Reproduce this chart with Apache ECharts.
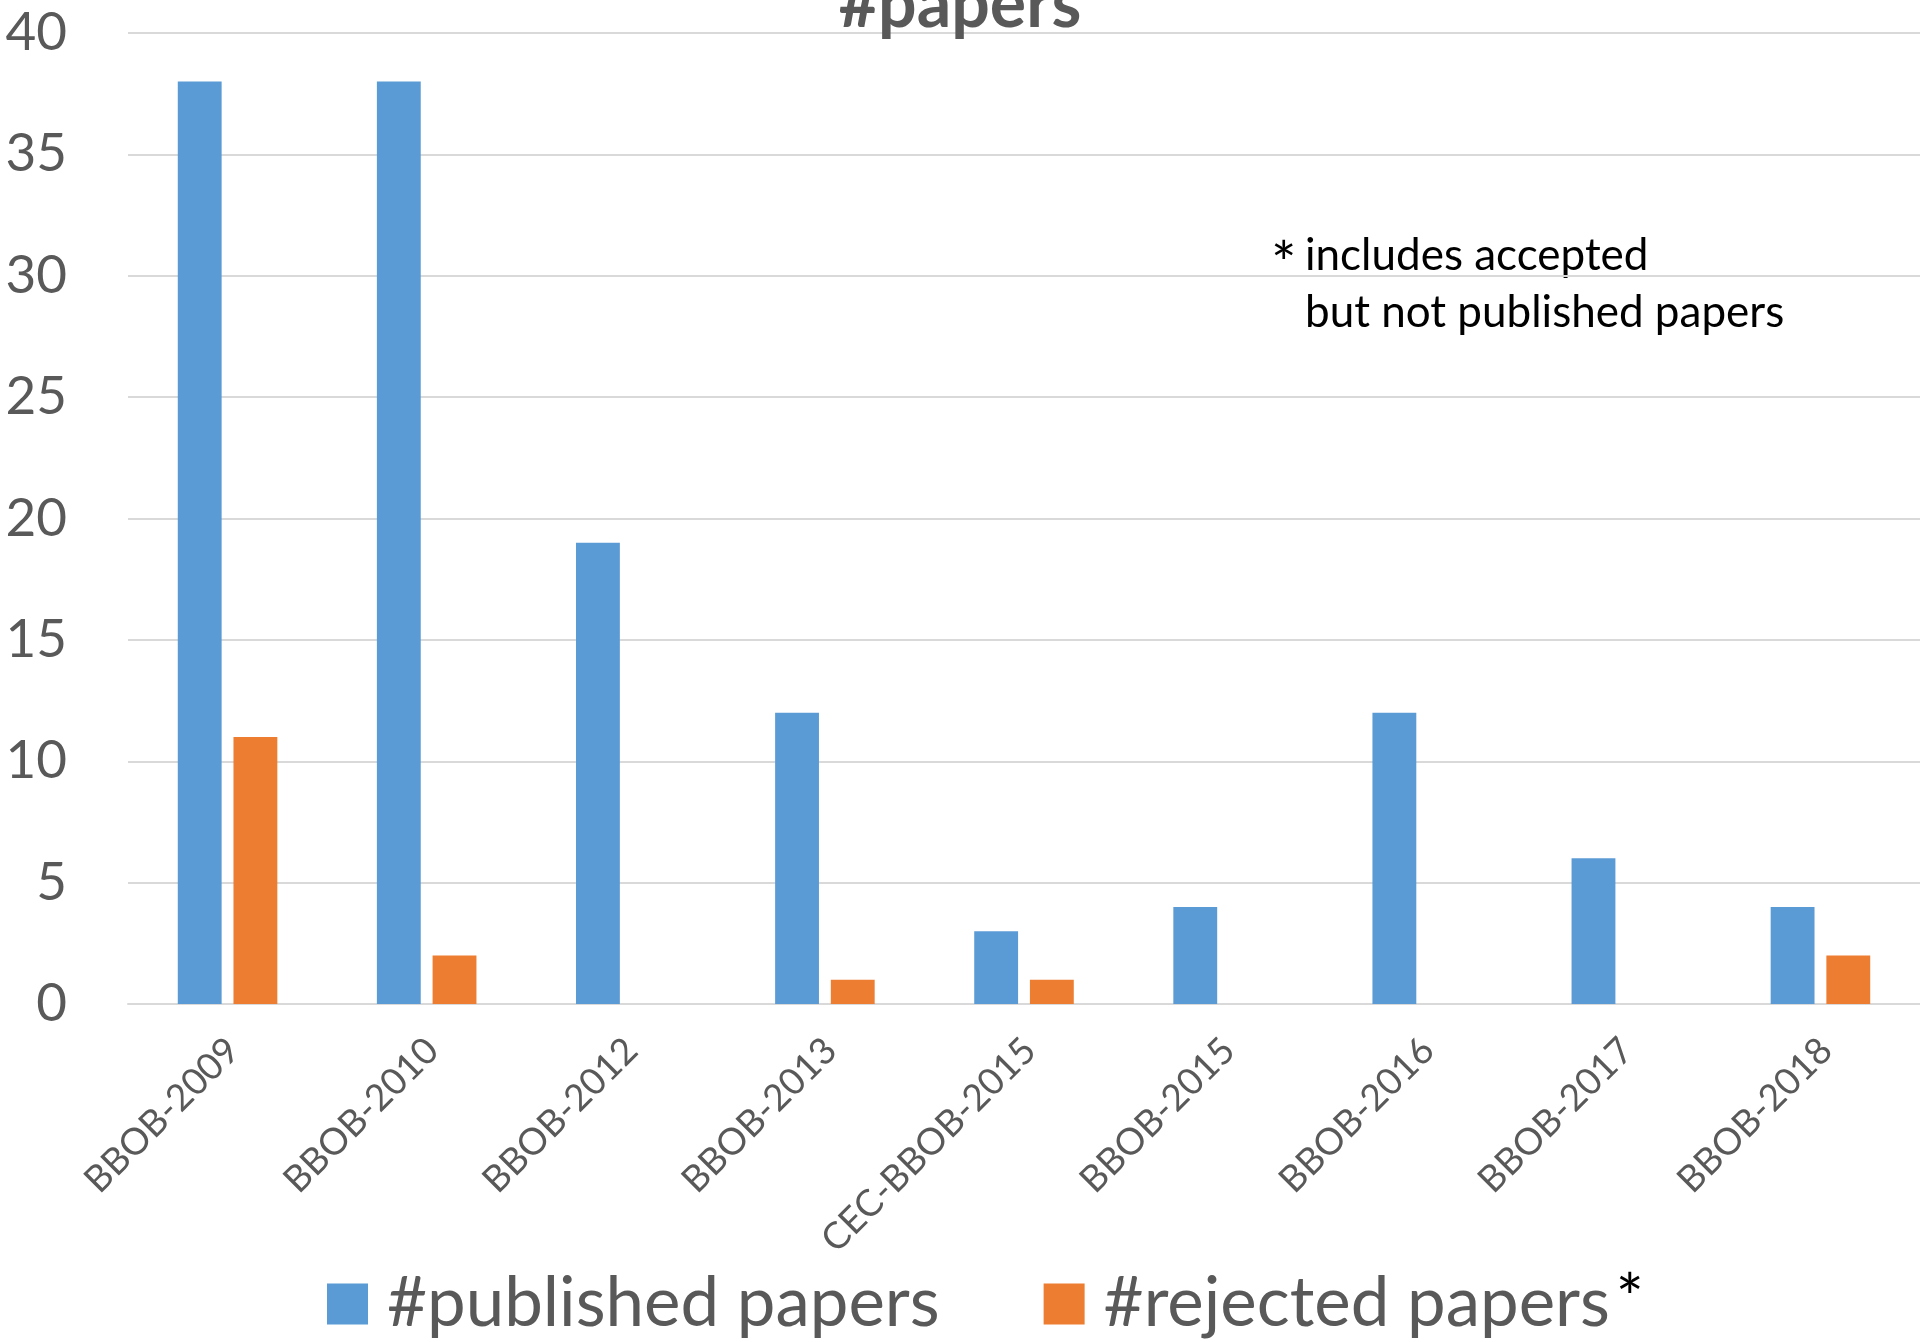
<!DOCTYPE html>
<html>
<head>
<meta charset="utf-8">
<title>#papers</title>
<script src="https://cdn.jsdelivr.net/npm/echarts@6/dist/echarts.min.js"></script>
<style>
  html, body { margin: 0; padding: 0; background: #ffffff; }
  #chart { width: 1920px; height: 1342px; }
</style>
</head>
<body>
<div id="chart"></div>
<script>
// Workshop editions on the x axis
const categories = ['BBOB-2009', 'BBOB-2010', 'BBOB-2012', 'BBOB-2013', 'CEC-BBOB-2015',
                    'BBOB-2015', 'BBOB-2016', 'BBOB-2017', 'BBOB-2018'];
// Number of published papers per edition
const publishedPapers = [38, 38, 19, 12, 3, 4, 12, 6, 4];
// Number of rejected papers per edition (includes accepted but not published)
const rejectedPapers = [11, 2, 0, 1, 1, 0, 0, 0, 2];
// Value axis range and step
const yMin = 0, yMax = 40, yStep = 5;

const FONT = 'Lato';
const GREY = '#595959';
const LINE = '#d9d9d9';

const chart = echarts.init(document.getElementById('chart'));
chart.setOption({
  animation: false,
  backgroundColor: '#ffffff',
  title: {
    text: '#papers',
    left: 'center',
    top: -29,
    padding: 0,
    textStyle: { fontFamily: FONT, fontWeight: 'bold', fontSize: 68, lineHeight: 68, color: GREY }
  },
  grid: { left: 128, right: 0, top: 33, bottom: 338, containLabel: false },
  legend: {
    left: 322,
    top: 1263,
    itemWidth: 41,
    itemHeight: 41,
    itemGap: 104,
    icon: 'rect',
    formatter: function (name) {
      return name === '#rejected papers' ? '{n|' + name + '}{s|*}' : '{n|' + name + '}';
    },
    textStyle: {
      rich: {
        n: { fontFamily: FONT, fontSize: 69, lineHeight: 72, color: GREY, padding: [0, 0, 0, 14] },
        s: { fontFamily: FONT, fontSize: 66, lineHeight: 72, color: '#000000', verticalAlign: 'top', padding: [0, 0, 0, 6] }
      }
    },
    data: ['#published papers', '#rejected papers']
  },
  xAxis: {
    type: 'category',
    data: categories,
    axisTick: { show: false },
    axisLine: { lineStyle: { color: LINE, width: 2 } },
    axisLabel: {
      interval: 0,
      rotate: 45,
      margin: 46,
      padding: [0, -8, 0, 0],
      fontFamily: FONT,
      fontSize: 37,
      color: GREY
    }
  },
  yAxis: {
    type: 'value',
    min: yMin,
    max: yMax,
    interval: yStep,
    axisLine: { show: false },
    axisTick: { show: false },
    splitLine: { lineStyle: { color: LINE, width: 2 } },
    axisLabel: { margin: 61, fontFamily: FONT, fontSize: 53, color: GREY }
  },
  series: [
    {
      name: '#published papers',
      type: 'bar',
      data: publishedPapers,
      barGap: '27%',
      barCategoryGap: '50%',
      itemStyle: { color: '#5b9bd5' }
    },
    {
      name: '#rejected papers',
      type: 'bar',
      data: rejectedPapers,
      itemStyle: { color: '#ed7d31' }
    }
  ],
  graphic: [
    { type: 'text', left: 1271, top: 236, style: { text: '*', font: '60px Lato', fill: '#000000' } },
    { type: 'text', left: 1305, top: 234, style: { text: 'includes accepted', font: '44px Lato', fill: '#000000' } },
    { type: 'text', left: 1305, top: 291, style: { text: 'but not published papers', font: '44px Lato', fill: '#000000' } }
  ]
});
</script>
</body>
</html>
